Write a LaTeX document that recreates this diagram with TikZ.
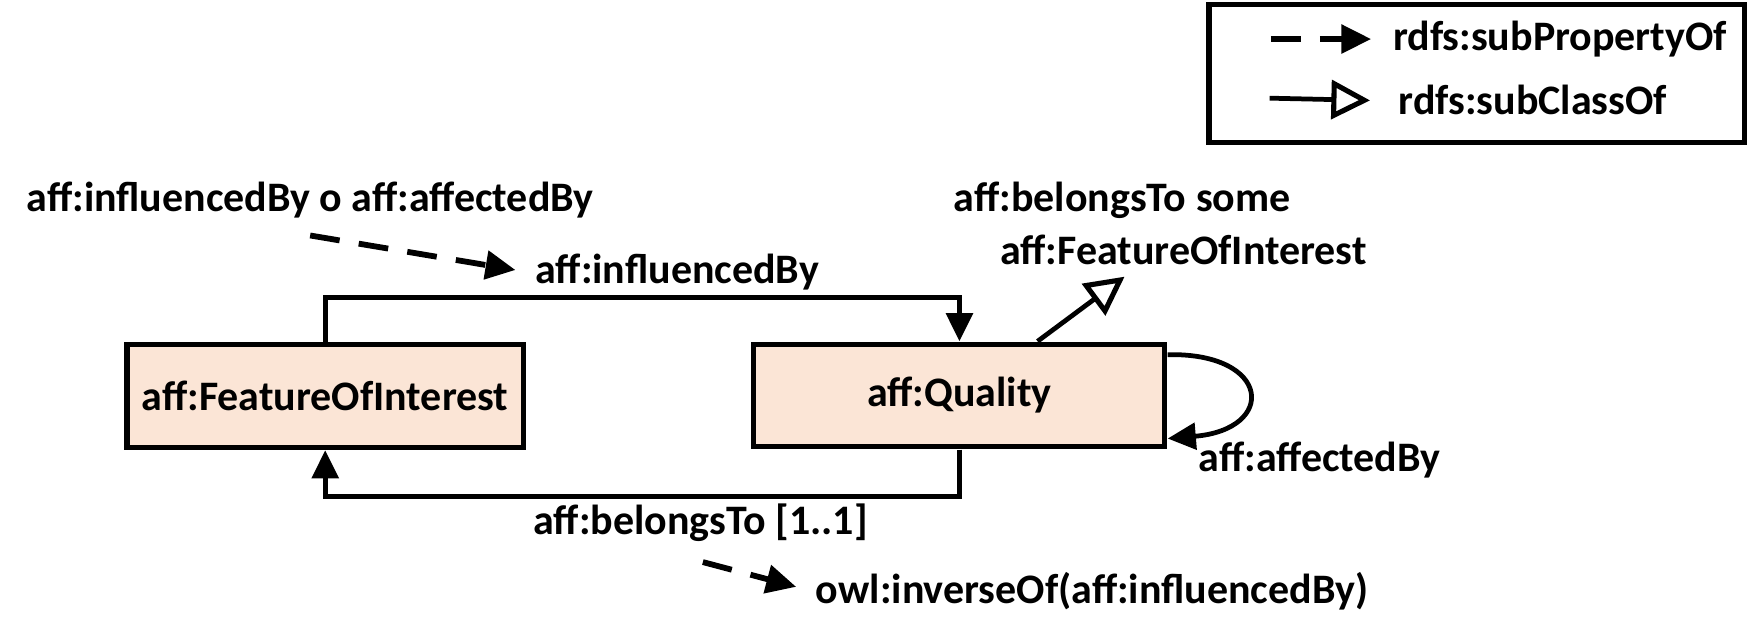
\documentclass[tikz,border=0pt]{standalone}
\usepackage{fontspec}
\setmainfont{Carlito}
\usepackage{xcolor}
\usepackage{tikz}
\usetikzlibrary{arrows.meta,calc}
\definecolor{boxfill}{HTML}{FBE5D6}

\begin{document}
\begin{tikzpicture}[x=0.01cm, y=-0.01cm, scale=1.1154, line width=1.35pt,
	every node/.style={scale=1.1154, font=\fontsize{10.7}{12}\selectfont\bfseries, inner sep=1pt},
	cls/.style={draw, fill=boxfill, line width=1.45pt, minimum width=3.55cm, minimum height=0.92cm},
	prop/.style={-{Triangle[length=8pt,width=7.5pt]}},
	subprop/.style={dash pattern=on 8.5pt off 5.5pt, line width=1.65pt, -{Triangle[length=8.5pt,width=8pt]}},
	subcls/.style={-{Triangle[open,length=11pt,width=11pt,line width=1.45pt]}}]
	\useasboundingbox (0,0) rectangle (1568,574.7);
	% legend
	\node[draw, line width=1.45pt, minimum width=4.8cm, minimum height=1.24cm] (legend) at (1324,66) {};
	\node[anchor=west] (lsub) at (1243,35) {rdfs:subPropertyOf};
	\node[anchor=west] (lcls) at (1248,90) {rdfs:subClassOf};
	\draw[subprop] ($(lsub.west)+(-104,0)$) -- ($(lsub.west)+(-14,0)$);
	\draw[subcls] ($(lcls.west)+(-110,-2)$) -- ($(lcls.west)+(-20,0)$);
	% classes
	\node[cls] (foi) at (291.5,355) {aff:FeatureOfInterest};
	\node[cls, minimum width=3.68cm] (qual) at (860,354.5) {aff:Quality};
	% properties
	\draw[prop] (foi.north) -- ++(0,-40) -| (qual.north);
	\draw[prop] (qual.south) -- ++(0,42) -| (foi.south);
	\draw[prop] ($(qual.north east)+(0,12)$) .. controls (1140,316) and (1145,385) .. ($(qual.south east)+(0,-10)$);
	% labels
	\node (infl) at (607,244) {aff:influencedBy};
	\node (bel) at (628,469) {aff:belongsTo [1..1]};
	\node (aff) at (1183,412) {aff:affectedBy};
	\node (chain) at (278,179) {aff:influencedBy o aff:affectedBy};
	\node (inv) at (979,530) {owl:inverseOf(aff:influencedBy)};
	\node (some) at (1006,180) {aff:belongsTo some};
	\node (foisup) at (1061,224) {aff:FeatureOfInterest};
	\coordinate (suptip) at (1008,248);
	% sub properties and sub classes
	\draw[subprop] ($(chain.south)+(0,10)$) -- ($(infl.west)+(-12,-2)$);
	\draw[subprop] ($(bel.south)+(2,12)$) -- ($(inv.west)+(-12,-4)$);
	\draw[subcls] ($(qual.north)+(70,0)$) -- (suptip);
\end{tikzpicture}
\end{document}
